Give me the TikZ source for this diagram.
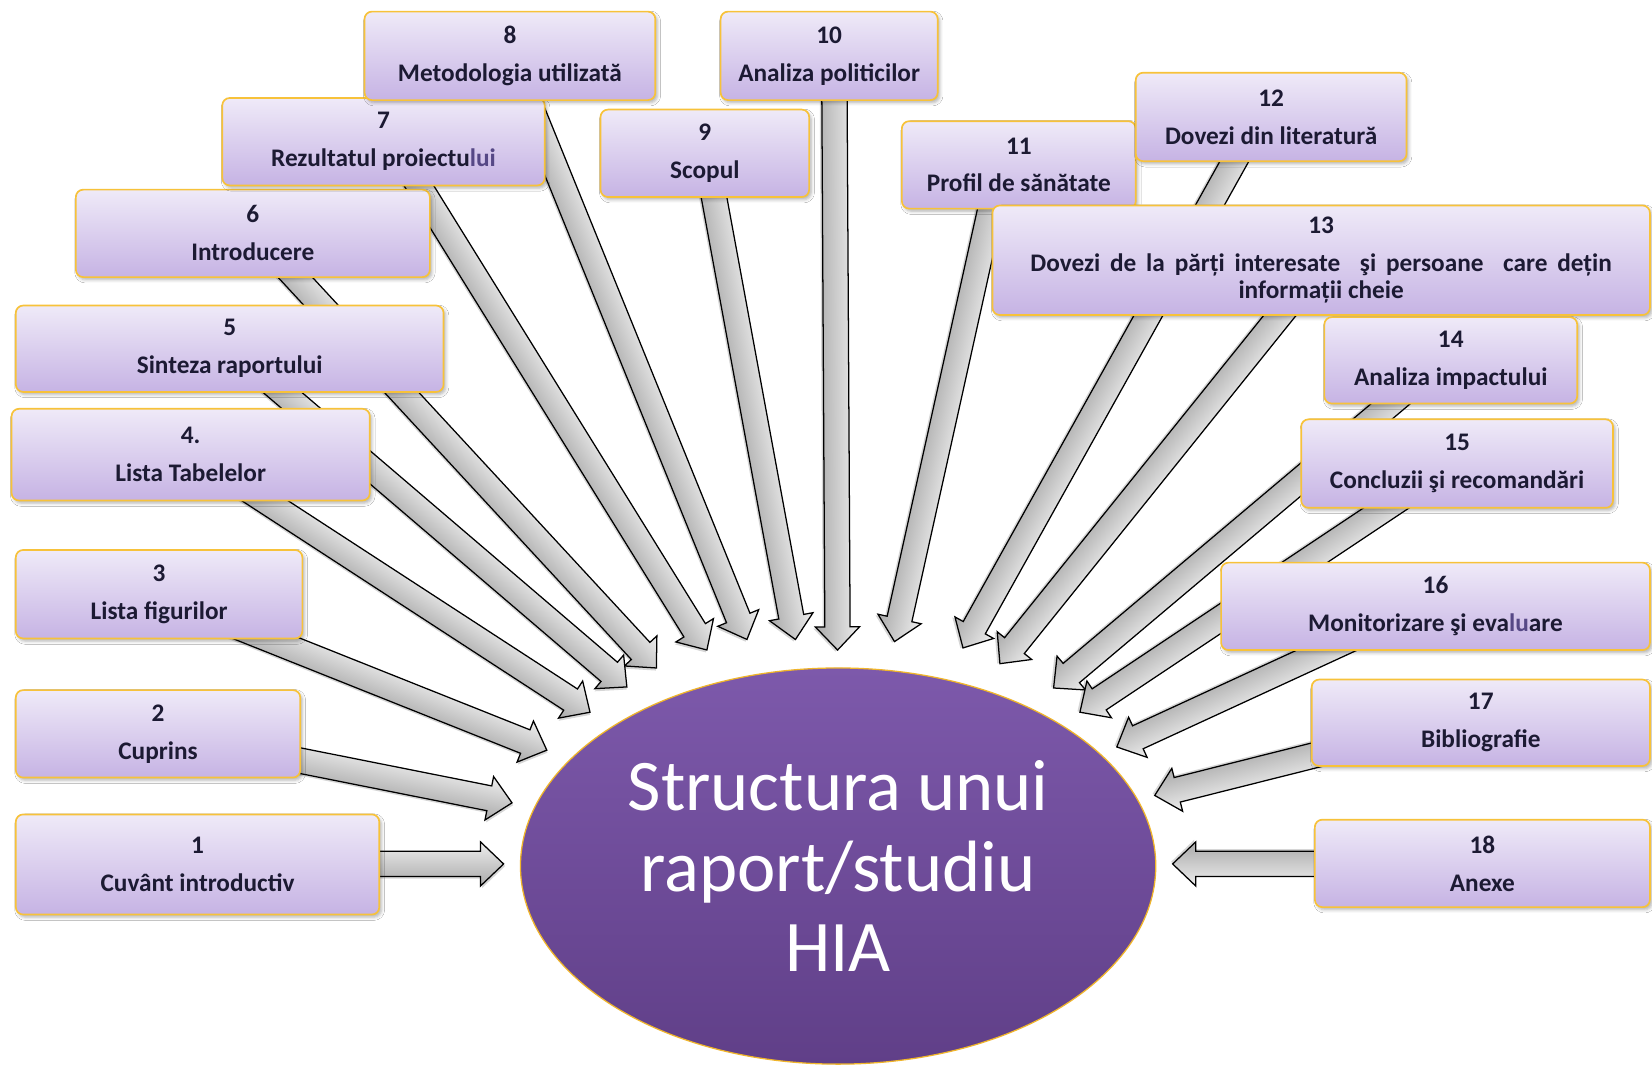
\documentclass[tikz,border=0pt]{standalone}
\usepackage{fontspec}
\setmainfont{Carlito}
\usetikzlibrary{calc,shapes.geometric,shadows.blur}

\definecolor{boxtop}{HTML}{EFEAF8}
\definecolor{boxbot}{HTML}{C6B3E4}
\definecolor{boxline}{HTML}{F7C23A}
\definecolor{labeltxt}{HTML}{1C1A33}
\definecolor{softtxt}{HTML}{564886}
\definecolor{hubtop}{HTML}{7D59AB}
\definecolor{hubbot}{HTML}{603F88}
\definecolor{hubline}{HTML}{F0B52A}
\definecolor{arrlight}{HTML}{EEEEEE}
\definecolor{arrdark}{HTML}{A9A9A9}

\pgfdeclarelayer{arrows}
\pgfsetlayers{arrows,main}

% block arrow geometry (pt)
\def\shafthalf{12pt}
\def\headhalf{21pt}
\def\headlen{22}

% grey block arrow from coordinate #1 to the tip coordinate #2
\makeatletter
\newcommand\blockarrow[2]{%
  \pgfpointdiff{\pgfpointanchor{#1}{center}}{\pgfpointanchor{#2}{center}}%
  \edef\BAdx{\the\pgf@x}\edef\BAdy{\the\pgf@y}%
  \pgfmathsetmacro\BAang{atan2(\BAdy,\BAdx)}%
  \pgfmathsetmacro\BAlen{veclen(\BAdx,\BAdy)}%
  \pgfmathsetmacro\BAneck{\BAlen-\headlen}%
  \begin{scope}[transform canvas={shift={(#1)},rotate=\BAang}]
    \fill[black,opacity=.16,shift={(1.5pt,-2pt)}]
      (0pt,-\shafthalf) -- (\BAneck pt,-\shafthalf) -- (\BAneck pt,-\headhalf)
      -- (\BAlen pt,0pt) -- (\BAneck pt,\headhalf) -- (\BAneck pt,\shafthalf)
      -- (0pt,\shafthalf) -- cycle;
    \shade[arrowbody]
      (0pt,-\shafthalf) -- (\BAneck pt,-\shafthalf) -- (\BAneck pt,-\headhalf)
      -- (\BAlen pt,0pt) -- (\BAneck pt,\headhalf) -- (\BAneck pt,\shafthalf)
      -- (0pt,\shafthalf) -- cycle;
  \end{scope}}
\makeatother

\tikzset{
  arrowbody/.style={top color=arrlight, bottom color=arrdark, draw=black,
    line width=1.2pt, line join=miter},
  topic/.style={rounded corners=7pt, draw=boxline, line width=1.6pt,
    top color=boxtop, bottom color=boxbot, align=center, inner sep=0pt,
    text=labeltxt, font=\fontsize{24}{27}\selectfont\bfseries,
    blur shadow={shadow xshift=2pt, shadow yshift=-2.5pt,
      shadow blur radius=3pt, shadow opacity=30}},
  hub/.style={ellipse, inner sep=0pt, draw=hubline, line width=1.2pt,
    top color=hubtop, bottom color=hubbot, text=white, align=center,
    font=\fontsize{69}{76}\selectfont}
}

\begin{document}
\begin{tikzpicture}[x=1pt,y=-1pt]
\useasboundingbox (0,0) rectangle (1568,1013);

% central ellipse
\node[hub, minimum width=603pt, minimum height=376pt] (hub) at (795.5,822)
  {Structura unui\\raport/studiu\\HIA};

% chapter boxes
\node[topic, minimum width=345pt, minimum height=95pt] (b1) at (187.5,820.5) {1\\[9pt]Cuvânt introductiv};
\node[topic, minimum width=270pt, minimum height=83pt] (b2) at (150,696.5) {2\\[9pt]Cuprins};
\node[topic, minimum width=272pt, minimum height=84pt] (b3) at (151,564) {3\\[9pt]Lista figurilor};
\node[topic, minimum width=340pt, minimum height=87pt] (b4) at (181,431.5) {4.\\[9pt]Lista Tabelelor};
\node[topic, minimum width=406pt, minimum height=82pt] (b5) at (218,331) {5\\[9pt]Sinteza raportului};
\node[topic, minimum width=336pt, minimum height=83pt] (b6) at (240,221.5) {6\\[9pt]Introducere};
\node[topic, minimum width=306pt, minimum height=83pt] (b7) at (364,134.5) {7\\[9pt]Rezultatul proiectu\textcolor{softtxt}{lui}};
\node[topic, minimum width=276pt, minimum height=84pt] (b8) at (484,53) {8\\[9pt]Metodologia utilizată};
\node[topic, minimum width=198pt, minimum height=83pt] (b9) at (669,145.5) {9\\[9pt]Scopul};
\node[topic, minimum width=206pt, minimum height=84pt] (b10) at (787,53) {10\\[9pt]Analiza politicilor};
\node[topic, minimum width=222pt, minimum height=83pt] (b11) at (967,156.5) {11\\[9pt]Profil de sănătate};
\node[topic, minimum width=257pt, minimum height=84pt] (b12) at (1206.5,111) {12\\[9pt]Dovezi din literatură};
\node[topic, minimum width=624pt, minimum height=104pt] (b13) at (1254,247) {13\\[9pt]\makebox[552pt][s]{Dovezi de la părți interesate \ şi persoane \ care dețin}\\[-1pt]informații cheie};
\node[topic, minimum width=240pt, minimum height=82pt] (b14) at (1377,342) {14\\[9pt]Analiza impactului};
\node[topic, minimum width=296pt, minimum height=84pt] (b15) at (1383,440) {15\\[9pt]Concluzii şi recomandări};
\node[topic, minimum width=407pt, minimum height=83pt] (b16) at (1362.5,575.5) {16\\[9pt]Monitorizare şi eva\textcolor{softtxt}{lu}are};
\node[topic, minimum width=321pt, minimum height=82pt] (b17) at (1405.5,686) {17\\[9pt]Bibliografie};
\node[topic, minimum width=318pt, minimum height=83pt] (b18) at (1407,819.5) {18\\[9pt]Anexe};

% arrow tails, tucked under their boxes
\coordinate (s1) at ($(b1.center)+(152.5,-0.5)$);
\coordinate (s2) at ($(b2.center)+(115,21.5)$);
\coordinate (s3) at ($(b3.center)+(67,28)$);
\coordinate (s4) at ($(b4.center)+(47,28.5)$);
\coordinate (s5) at ($(b5.center)+(32,26)$);
\coordinate (s6) at ($(b6.center)+(28,28.5)$);
\coordinate (s7) at ($(b7.center)+(26,29.5)$);
\coordinate (s8) at ($(b8.center)+(13,32)$);
\coordinate (s9) at ($(b9.center)+(7,32.5)$);
\coordinate (s10) at ($(b10.center)+(5,32)$);
\coordinate (s11) at ($(b11.center)+(-24,28.5)$);
\coordinate (s12) at ($(b12.center)+(-26.5,27)$);
\coordinate (s13) at ($(b13.center)+(-26,36)$);
\coordinate (s14) at ($(b14.center)+(-39,26)$);
\coordinate (s15) at ($(b15.center)+(-43,26)$);
\coordinate (s16) at ($(b16.center)+(-72.5,27.5)$);
\coordinate (s17) at ($(b17.center)+(-130.5,24)$);
\coordinate (s18) at ($(b18.center)+(-127,0.5)$);

% arrow tips around the ellipse
\coordinate (t1) at (478,820);
\coordinate (t2) at (486,762);
\coordinate (t3) at (519,712);
\coordinate (t4) at (560,676);
\coordinate (t5) at (595,652);
\coordinate (t6) at (623,634);
\coordinate (t7) at (671,617);
\coordinate (t8) at (709,607);
\coordinate (t9) at (755,607);
\coordinate (t10) at (795,617);
\coordinate (t11) at (849,609);
\coordinate (t12) at (914,615);
\coordinate (t13) at (949,630);
\coordinate (t14) at (1000,653);
\coordinate (t15) at (1025,676);
\coordinate (t16) at (1060,709);
\coordinate (t17) at (1096,755);
\coordinate (t18) at (1113,820);

\begin{pgfonlayer}{arrows}
  \fill[white] (0,0) rectangle (1568,1013);
  \blockarrow{s10}{t10}
  \blockarrow{s9}{t9}
  \blockarrow{s11}{t11}
  \blockarrow{s8}{t8}
  \blockarrow{s12}{t12}
  \blockarrow{s7}{t7}
  \blockarrow{s13}{t13}
  \blockarrow{s6}{t6}
  \blockarrow{s14}{t14}
  \blockarrow{s5}{t5}
  \blockarrow{s15}{t15}
  \blockarrow{s4}{t4}
  \blockarrow{s16}{t16}
  \blockarrow{s3}{t3}
  \blockarrow{s17}{t17}
  \blockarrow{s2}{t2}
  \blockarrow{s18}{t18}
  \blockarrow{s1}{t1}
\end{pgfonlayer}
\end{tikzpicture}
\end{document}
